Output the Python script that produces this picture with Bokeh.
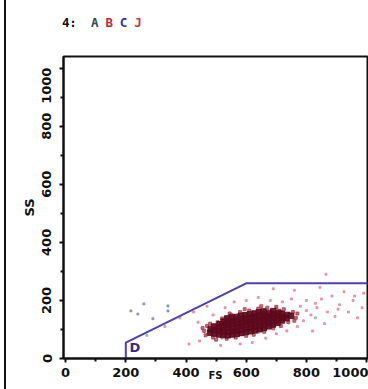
from bokeh.plotting import figure
from bokeh.models import FixedTicker, Div
from bokeh.layouts import column
from bokeh.core.properties import value
from bokeh.embed import file_html
from bokeh.resources import INLINE

# ---- data ----
x_ticks = [0, 200, 400, 600, 800, 1000]
x_minor = [100, 300, 500, 700, 900]
y_ticks = [0, 200, 400, 600, 800, 1000]
y_minor = [100, 300, 500, 700, 900]
x_labels = ["0", "200", "400", "600", "800", "1000"]
y_labels = ["0", "200", "400", "600", "800", "1000"]

gate_fs = [200, 200, 600, 1010]
gate_ss = [0, 55, 259, 259]
gate_name = ["D"]
gate_name_fs = [212]
gate_name_ss = [12]

core_fs = [480, 482, 494, 497, 493, 509, 511, 508, 512, 524, 526, 523, 527, 525,
           539, 541, 538, 542, 540, 537, 554, 556, 553, 557, 555, 552,
           569, 571, 568, 572, 570, 567, 584, 586, 583, 587, 585, 582,
           599, 601, 598, 602, 600, 597, 614, 616, 613, 617, 615, 612,
           629, 631, 628, 632, 630, 627, 644, 646, 643, 647, 645, 642,
           659, 661, 658, 662, 660, 657, 674, 676, 673, 677, 675,
           689, 691, 688, 692, 690, 704, 706, 703, 707, 719, 721, 718,
           734, 736, 749]
core_ss = [89, 101, 86, 98, 110, 83, 95, 107, 118, 81, 93, 104, 116, 127,
           80, 92, 105, 116, 128, 138, 83, 94, 106, 119, 130, 141,
           85, 96, 109, 120, 132, 143, 88, 101, 112, 124, 136, 147,
           91, 102, 115, 126, 138, 149, 94, 105, 118, 129, 141, 152,
           97, 108, 121, 132, 144, 155, 101, 112, 125, 136, 148, 159,
           105, 116, 128, 140, 151, 162, 111, 122, 134, 146, 157,
           117, 128, 140, 152, 163, 123, 134, 146, 157, 131, 142, 154,
           139, 150, 147]

halo_fs = [460, 465, 470, 455, 490, 505, 520, 535, 550, 565, 580, 600, 610, 625,
           640, 660, 670, 690, 700, 715, 725, 740, 755, 765, 770, 545, 595, 650,
           480, 500, 760, 710]
halo_ss = [95, 80, 112, 105, 72, 125, 138, 68, 150, 72, 160, 78, 165, 82,
           172, 92, 175, 104, 178, 112, 170, 125, 160, 140, 155, 155, 170, 180,
           120, 65, 130, 165]

sparse_fs = [330, 380, 410, 425, 440, 445, 470, 490, 515, 530, 560,
             580, 600, 620, 640, 665, 680, 700, 720, 735, 750, 770, 780, 790, 800,
             815, 820, 835, 850, 860, 870, 885, 895, 910, 925, 940, 955, 970, 985,
             990, 845, 760, 690, 865, 800, 830, 905, 960]
sparse_ss = [110, 140, 50, 160, 125, 60, 180, 150, 45, 175, 195,
             50, 200, 55, 210, 70, 200, 85, 195, 95, 205, 110, 180, 130, 200,
             150, 95, 175, 205, 120, 160, 215, 145, 185, 230, 160, 200, 140, 175,
             225, 245, 235, 240, 290, 165, 190, 170, 215]

blue_fs = [217, 260, 340, 240, 290, 340]
blue_ss = [164, 188, 181, 153, 137, 164]

green_fs = [270, 520, 640, 700, 830]
green_ss = [80, 70, 90, 175, 140]

title_parts = ["4:", "A", "B", "C", "J"]
title_colors = ["#111111", "#2f4a5a", "#c0283a", "#2a2fc0", "#c8343a"]

# ---- title (coloured letters) ----
spans = "".join(
    ('<span style="color:%s">%s</span>' % (c, t)) + ("&nbsp;&nbsp;" if i == 0 else "&nbsp;")
    for i, (t, c) in enumerate(zip(title_parts, title_colors))
)
title_div = Div(
    text='<div style="margin:16px 0 0 62px;font-family:\'DejaVu Sans Mono\';'
         'font-weight:bold;font-size:12.5px;letter-spacing:-0.3px;line-height:14px;'
         'white-space:nowrap">' + spans + '</div>',
    width=368, height=40, margin=0)

# ---- figure ----
p = figure(width=368, height=349, x_range=(-7, 1003), y_range=(0, 1040),
           output_backend="svg", toolbar_location=None, margin=0,
           min_border_left=63, min_border_right=1, min_border_top=16,
           min_border_bottom=31)
p.background_fill_color = "#ffffff"
p.border_fill_color = None
p.outline_line_color = "#111111"
p.outline_line_width = 2
p.xgrid.visible = False
p.ygrid.visible = False

NB = "\u00a0"
tick_font = "DejaVu Sans"
for ax, ticks, minor, labels, pad in ((p.xaxis[0], x_ticks, x_minor, x_labels, 0),
                                      (p.yaxis[0], y_ticks, y_minor, y_labels, 6)):
    ax.ticker = FixedTicker(ticks=ticks, minor_ticks=minor)
    ov = {t: l for t, l in zip(ticks, labels)}
    ov[ticks[-1]] = labels[-1] + NB * pad
    ax.major_label_overrides = ov
    ax.axis_line_color = "#111111"
    ax.axis_line_width = 2
    ax.major_tick_line_color = "#111111"
    ax.minor_tick_line_color = "#111111"
    ax.major_tick_line_width = 2
    ax.minor_tick_line_width = 2
    ax.major_tick_in = 0
    ax.major_tick_out = 4
    ax.minor_tick_in = 0
    ax.minor_tick_out = 3
    ax.major_label_text_font = tick_font
    ax.major_label_text_font_style = "bold"
    ax.major_label_text_font_size = "13px"
    ax.major_label_text_color = "#111111"
    ax.major_label_standoff = 5
    ax.axis_label_text_font = tick_font
    ax.axis_label_text_font_style = "bold"
    ax.axis_label_text_color = "#111111"

p.yaxis.major_label_orientation = "vertical"
p.yaxis.axis_label = "SS"
p.yaxis.axis_label_text_font_size = "13px"
p.yaxis.axis_label_standoff = 0
p.xaxis.axis_label = "FS"
p.xaxis.axis_label_text_font_size = "10px"
p.xaxis.axis_label_standoff = -10

# scatter
p.scatter(sparse_fs, sparse_ss, marker="square", size=2, color="#e07a88", alpha=0.65)
p.scatter(blue_fs, blue_ss, marker="square", size=2, color="#8a88c0", alpha=0.8)
p.scatter(green_fs, green_ss, marker="square", size=2, color="#98b890", alpha=0.8)
p.scatter(halo_fs, halo_ss, marker="square", size=3, color="#a8303f", alpha=0.7)
p.scatter(core_fs, core_ss, marker="square", size=5.5, color="#5e0a1e", alpha=0.92)

# gate
p.line(gate_fs, gate_ss, line_color="#4b40b8", line_width=2)
p.text(gate_name_fs, gate_name_ss, text=gate_name, text_color="#3a2a86",
       text_font=value(tick_font), text_font_style="bold", text_font_size="13px",
       text_baseline="bottom", text_align="left")

layout = column(title_div, p, spacing=0, margin=0,
                styles={"box-shadow": "inset 4px 0 0 0 #ffffff, inset 6px 0 0 0 #111111"})

open("out.html", "w").write(file_html(layout, INLINE))
